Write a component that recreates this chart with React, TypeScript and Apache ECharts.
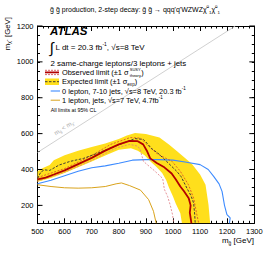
import React, { useEffect, useRef } from "react";
import * as echarts from "echarts";

// ---- data (GeV) ----
const obsX = [500, 530, 560, 600, 650, 700, 750, 800, 840, 870, 890, 905, 916, 940, 968, 995, 1010, 1027, 1040, 1058, 1065, 1062, 1065, 1068];
const obsY = [345, 355, 372, 395, 430, 465, 505, 540, 560, 558, 540, 500, 462, 436, 412, 378, 345, 305, 280, 240, 200, 160, 130, 100];

const expX = [500, 512, 525, 545, 580, 620, 670, 720, 770, 830, 860, 890, 905, 920, 945, 965, 990, 1015, 1030, 1051, 1066, 1076, 1080, 1082];
const expY = [350, 385, 398, 395, 425, 445, 462, 490, 520, 555, 572, 568, 545, 518, 490, 462, 425, 388, 360, 297, 255, 213, 150, 100];

const bandUpX = [500, 520, 545, 560, 600, 650, 700, 750, 800, 830, 860, 900, 950, 985, 1015, 1040, 1070, 1100, 1120, 1131, 1137];
const bandUpY = [390, 408, 425, 452, 480, 505, 525, 545, 570, 590, 603, 598, 578, 540, 502, 470, 430, 372, 315, 204, 100];
const bandLoX = [1033, 1027, 1010, 1000, 985, 975, 960, 940, 916, 895, 870, 845, 800, 750, 700, 650, 600, 550, 500];
const bandLoY = [100, 156, 210, 250, 300, 340, 380, 412, 446, 480, 505, 518, 510, 478, 445, 412, 380, 352, 332];

const obsUpX = [500, 600, 700, 770, 842, 880, 910, 940, 970, 996, 1027, 1057, 1076, 1088, 1095];
const obsUpY = [355, 405, 478, 540, 578, 575, 530, 490, 465, 446, 390, 315, 241, 148, 100];

const obsDnX = [500, 600, 700, 790, 840, 870, 879, 891, 930, 962, 968, 980, 990, 998, 1003];
const obsDnY = [335, 385, 450, 520, 540, 530, 510, 445, 395, 350, 290, 250, 200, 150, 100];

const zeroLepX = [500, 550, 600, 650, 700, 750, 800, 850, 900, 950, 1000, 1050, 1100, 1130, 1150, 1170, 1181, 1190, 1199, 1211, 1208];
const zeroLepY = [320, 340, 365, 390, 410, 420, 435, 452, 455, 455, 452, 440, 427, 400, 362, 320, 278, 200, 148, 130, 100];

const oneLepX = [500, 550, 600, 650, 700, 750, 790, 810, 840, 880, 910, 928, 938];
const oneLepY = [315, 305, 298, 296, 298, 305, 320, 325, 310, 285, 232, 167, 100];

const diagX = [500, 1230];
const diagY = [495, 1200];

const xTicks = { min: 500, max: 1300, step: 100 };
const yMajor = [200, 400, 600, 800, 1000, 1200];
const yRange = { min: 100, max: 1200, minorStep: 50 };

const pairs = (xs: number[], ys: number[]) => xs.map((x, i) => [x, ys[i]]);

const FONT = '"Liberation Sans", Arial, Helvetica, sans-serif';
const YELLOW = "#ffdf1c";
const RED = "#b30000";
const BLUE = "#3d8bff";
const ORANGE = "#d9a21b";

export default function App() {
  const ref = useRef<HTMLDivElement>(null);
  useEffect(() => {
    if (!ref.current) return;
    const chart = echarts.init(ref.current, undefined, { renderer: "svg" });
    const band = pairs(bandUpX, bandUpY).concat(pairs(bandLoX, bandLoY));
    const grid = { left: 37.5, right: 13.7, top: 26, bottom: 30.7 };
    const tickStyle = { color: "#000", width: 1 };
    const xBase = (show: boolean, pos: string) => ({
      type: "value",
      position: pos,
      min: xTicks.min,
      max: xTicks.max,
      interval: xTicks.step,
      axisLine: { show: true, onZero: false, lineStyle: { color: "#000", width: 1 } },
      axisTick: { show: true, inside: true, length: 5, lineStyle: tickStyle },
      minorTick: { show: true, splitNumber: 5, length: 2.5, lineStyle: tickStyle },
      axisLabel: { show, fontSize: 7.5, color: "#000", margin: 4, fontFamily: FONT, formatter: (v: number) => String(v) },
      splitLine: { show: false },
      minorSplitLine: { show: false },
    });
    const yAxisDef = (pos: string, show: boolean) => ({
      type: "value",
      position: pos,
      min: yRange.min,
      max: yRange.max,
      interval: yRange.minorStep,
      axisLine: { show: true, onZero: false, lineStyle: { color: "#000", width: 1 } },
      axisTick: { show: true, inside: true, length: 2.5, lineStyle: tickStyle },
      axisLabel: {
        show,
        fontSize: 7.5,
        color: "#000",
        margin: 4,
        fontFamily: FONT,
        formatter: (v: number) => (yMajor.indexOf(v) >= 0 ? String(v) : ""),
      },
      splitLine: { show: false },
    });
    const lineSeries = (data: number[][], color: string, width: number, type: any = "solid", z = 3) => ({
      type: "line",
      data,
      showSymbol: false,
      symbol: "none",
      clip: true,
      z,
      silent: true,
      lineStyle: { color, width, type },
    });
    const rich = (fs: number, fill = "#000") => ({
      t: { fontSize: fs, fontFamily: FONT, fill, lineHeight: fs + 3 },
      s: { fontSize: fs * 0.62, fontFamily: FONT, fill, lineHeight: fs * 0.62, verticalAlign: "top" },
      u: { fontSize: fs * 0.62, fontFamily: FONT, fill, lineHeight: fs * 0.62, verticalAlign: "bottom" },
    });
    const txt = (x: number, y: number, text: string, fs: number, extra: any = {}) => ({
      type: "text",
      x,
      y,
      silent: true,
      z: 100,
      style: { text, rich: rich(fs, extra.fill || "#000"), fill: "#000", align: "left", verticalAlign: "middle", fontFamily: FONT, fontSize: fs, ...extra },
    });
    const hl = (x1: number, x2: number, y: number, stroke: string, lineWidth: number, lineDash: any = null) => ({
      type: "line",
      silent: true,
      z: 100,
      shape: { x1, y1: y, x2, y2: y },
      style: { stroke, lineWidth, lineDash },
    });

    chart.setOption({
      animation: false,
      backgroundColor: "#fff",
      grid: { ...grid, containLabel: false },
      xAxis: [xBase(true, "bottom"), xBase(false, "top")],
      yAxis: [yAxisDef("left", true), yAxisDef("right", false)],
      series: [
        {
          type: "custom",
          silent: true,
          z: 1,
          clip: true,
          data: [band[0]],
          renderItem: (_p: any, api: any) => ({
            type: "polygon",
            shape: { points: band.map((p) => api.coord(p)) },
            style: { fill: YELLOW, stroke: "none" },
          }),
        },
        {
          // long (major) y ticks on left and right frame edges
          type: "custom",
          silent: true,
          z: 10,
          clip: false,
          data: yMajor.map((v) => [xTicks.min, v]),
          renderItem: (_p: any, api: any) => {
            const v = api.value(1);
            const a = api.coord([xTicks.min, v]);
            const b = api.coord([xTicks.max, v]);
            return {
              type: "group",
              children: [
                { type: "line", shape: { x1: a[0], y1: a[1], x2: a[0] + 5, y2: a[1] }, style: { stroke: "#000", lineWidth: 1 } },
                { type: "line", shape: { x1: b[0] - 5, y1: b[1], x2: b[0], y2: b[1] }, style: { stroke: "#000", lineWidth: 1 } },
              ],
            };
          },
        },
        lineSeries(pairs(diagX, diagY), "#c4c4c4", 0.8),
        lineSeries(pairs(zeroLepX, zeroLepY), BLUE, 1.1),
        lineSeries(pairs(oneLepX, oneLepY), ORANGE, 1),
        lineSeries(pairs(obsUpX, obsUpY), "#d8452a", 0.8, [2, 1.5]),
        lineSeries(pairs(obsDnX, obsDnY), "#e07a80", 0.8, [2, 1.5]),
        lineSeries(pairs(expX, expY), "#2b2b3a", 0.9, [2.5, 1.5], 4),
        lineSeries(pairs(obsX, obsY), RED, 1.8, "solid", 5),
      ],
      graphic: [
        txt(135, 9, "{t|g̃ g̃ production, 2-step decay: g̃ g̃ → qqq'q'WZWZχ̃}{s|0}{u|1}{t|χ̃}{s|0}{u|1}", 7, { align: "center" }),
        { type: "text", x: 50, y: 31, silent: true, z: 100, style: { text: "ATLAS", fontFamily: FONT, fontSize: 11.5, fontWeight: "bold", fontStyle: "italic", fill: "#000", verticalAlign: "middle" } },
        { type: "text", x: 49.5, y: 47.5, silent: true, z: 100, style: { text: "∫", fontFamily: FONT, fontSize: 15, fill: "#000", verticalAlign: "middle" } },
        txt(55.5, 47, "{t|L dt = 20.3 fb}{s|-1}{t|, √s=8 TeV}", 8),
        txt(50.5, 63, "{t|2 same-charge leptons/3 leptons + jets}", 7.9),
        // legend symbols
        hl(45, 59, 70.3, "#d04040", 0.8, [2, 1]),
        hl(45, 59, 74.6, "#d04040", 0.8, [2, 1]),
        hl(45, 59, 72.4, RED, 1.8),
        { type: "rect", silent: true, z: 99, shape: { x: 45, y: 78.5, width: 14, height: 6.5 }, style: { fill: YELLOW } },
        hl(45, 59, 81.7, "#2b2b3a", 0.9, [2.5, 1.5]),
        hl(50.7, 60, 91, BLUE, 1.1),
        hl(50.7, 60, 100.2, ORANGE, 1),
        txt(62, 72.4, "{t|Observed limit (±1 σ}", 7.4),
        txt(129.8, 69.4, "SUSY", 4),
        txt(129.8, 75.4, "theory", 4),
        txt(141.2, 72.4, "{t|)}", 7.4),
        txt(62, 81.8, "{t|Expected limit (±1 σ}{u|exp}{t|)}", 7.4),
        txt(62, 91, "{t|0 lepton, 7-10 jets, √s=8 TeV, 20.3 fb}{s|-1}", 7.4),
        txt(62, 100.2, "{t|1 lepton, jets, √s=7 TeV, 4.7fb}{s|-1}", 7.4),
        txt(50.7, 110, "{t|All limits at 95% CL}", 5.3),
        // diagonal label
        {
          ...txt(63.5, 127.5, "{t|m}{u|g̃}{t| < m}{u|χ̃}", 6.2, { align: "center", fill: "#a8a8a8" }),
          rotation: (32.5 * Math.PI) / 180,
        },
        // axis titles
        {
          ...txt(7, 17, "{t|m}{u|χ̃}{t|  [GeV]}", 7.8, { align: "right" }),
          rotation: Math.PI / 2,
        },
        txt(254, 240, "{t|m}{u|g̃}{t| [GeV]}", 8, { align: "right" }),
      ],
    });
    return () => chart.dispose();
  }, []);
  return (
    <div
      ref={ref}
      style={{ position: "fixed", left: 0, top: 0, width: 268, height: 254, background: "#fff" }}
    />
  );
}
